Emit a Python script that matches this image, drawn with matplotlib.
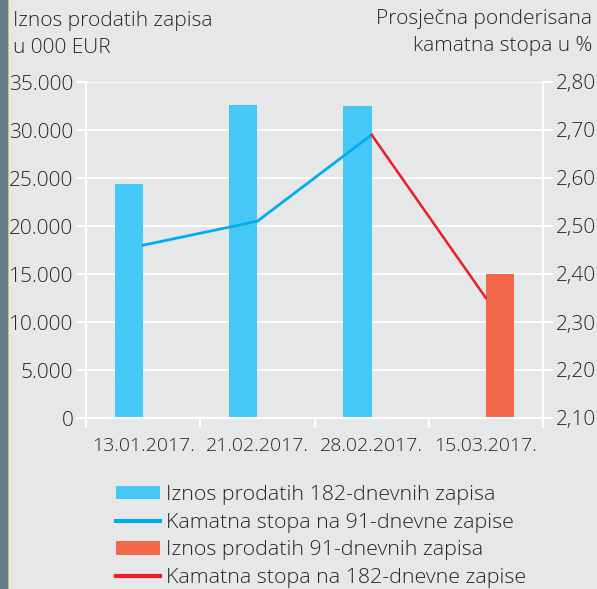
import numpy as np
import matplotlib
matplotlib.use("Agg")
import matplotlib.pyplot as plt
from matplotlib.patches import Patch, Rectangle
from matplotlib.lines import Line2D
from matplotlib.ticker import FixedLocator, NullFormatter, FixedFormatter

# ---- data ----
dates = ["13.01.2017.", "21.02.2017.", "28.02.2017.", "15.03.2017."]
amount_182 = [24400, 32600, 32500, np.nan]      # thousand EUR
amount_91 = [np.nan, np.nan, np.nan, 15000]     # thousand EUR
rate_91 = [2.46, 2.51, 2.69, np.nan]            # %
rate_182 = [np.nan, np.nan, 2.69, 2.35]         # %
left_ticks = [0, 5000, 10000, 15000, 20000, 25000, 30000, 35000]
left_labels = ["0", "5.000", "10.000", "15.000", "20.000", "25.000", "30.000", "35.000"]
right_ticks = [2.10, 2.20, 2.30, 2.40, 2.50, 2.60, 2.70, 2.80]
right_labels = ["2,10", "2,20", "2,30", "2,40", "2,50", "2,60", "2,70", "2,80"]
legend_labels = ["Iznos prodatih 182-dnevnih zapisa",
                 "Kamatna stopa na 91-dnevne zapise",
                 "Iznos prodatih 91-dnevnih zapisa",
                 "Kamatna stopa na 182-dnevne zapise"]

BG = "#e6e7e9"
BLUE_BAR = "#45c8f5"
BLUE_LINE = "#00aeef"
ORANGE = "#f26849"
RED = "#ed1c24"
TXT = "#262626"

plt.rcParams['font.family'] = ['Open Sans', 'DejaVu Sans']
plt.rcParams['font.weight'] = 'light'
FS = 15

fig = plt.figure(figsize=(5.97, 5.89), dpi=100, facecolor=BG)
ax = fig.add_axes([86/597, 1-418/589, (543-86)/597, (418-82)/589])
ax.set_facecolor("none")
ax2 = ax.twinx()
ax2.set_facecolor("none")

x = np.arange(len(dates))
w = 0.25
ax.bar(x - w/2, amount_182, width=w, color=BLUE_BAR, zorder=3)
ax.bar(x + w/2, amount_91, width=w, color=ORANGE, zorder=3)

ax.set_xlim(-0.5, len(dates) - 0.5)
ax.set_ylim(0, 35000)
ax2.set_ylim(2.10, 2.80)

ax2.plot(x, rate_91, color=BLUE_LINE, lw=2.0, zorder=4)
ax2.plot(x, rate_182, color=RED, lw=1.8, zorder=4)

# grid
for t in left_ticks:
    ax.axhline(t, color="white", lw=1.3, zorder=1)

# ticks
ax.yaxis.set_major_locator(FixedLocator(left_ticks))
ax.yaxis.set_major_formatter(FixedFormatter(left_labels))
ax2.yaxis.set_major_locator(FixedLocator(right_ticks))
ax2.yaxis.set_major_formatter(FixedFormatter(right_labels))
ax.xaxis.set_major_locator(FixedLocator(np.arange(len(dates) + 1) - 0.5))
ax.xaxis.set_major_formatter(NullFormatter())
ax.xaxis.set_minor_locator(FixedLocator(x))
ax.xaxis.set_minor_formatter(FixedFormatter(dates))
ax.tick_params(axis="x", which="major", length=7, width=1.5, color="white", direction="out")
ax.tick_params(axis="x", which="minor", length=0, pad=13.5, labelsize=14, labelcolor=TXT)
ax.tick_params(axis="y", length=7, width=1.5, color="white", pad=2, labelsize=FS, labelcolor=TXT)
ax2.tick_params(axis="y", length=7, width=1.5, color="white", pad=2, labelsize=FS, labelcolor=TXT)

for a in (ax, ax2):
    for s in a.spines.values():
        s.set_color("white")
        s.set_linewidth(1.5)
    a.spines["top"].set_visible(False)

# axis titles
fig.text(13/597, 1-53/589, "Iznos prodatih zapisa\nu 000 EUR", ha="left", va="baseline",
         fontsize=FS, color=TXT, linespacing=1.45, multialignment="left")
fig.text(592/597, 1-51/589, "Prosječna ponderisana\nkamatna stopa u %", ha="right", va="baseline",
         fontsize=FS, color=TXT, linespacing=1.45, multialignment="right")

# left strip
fig.patches.append(Rectangle((0, 0), 7/597, 1, transform=fig.transFigure,
                             color="#687a84", zorder=0))
fig.lines.append(Line2D([7.5/597, 7.5/597], [0, 1], transform=fig.transFigure,
                        color="#c9c46a", lw=0.8))

handles = [Patch(facecolor=BLUE_BAR, edgecolor="none"),
           Line2D([], [], color=BLUE_LINE, lw=3),
           Patch(facecolor=ORANGE, edgecolor="none"),
           Line2D([], [], color=RED, lw=3)]
leg = fig.legend(handles, legend_labels, loc="upper left",
                 bbox_to_anchor=(116/597, 1-485/589), frameon=False,
                 fontsize=15.4, labelcolor=TXT, handlelength=2.05, handleheight=0.6,
                 handletextpad=0.28, labelspacing=0.36, borderpad=0, borderaxespad=0)

fig.savefig("out.png", dpi=100, facecolor=BG)
